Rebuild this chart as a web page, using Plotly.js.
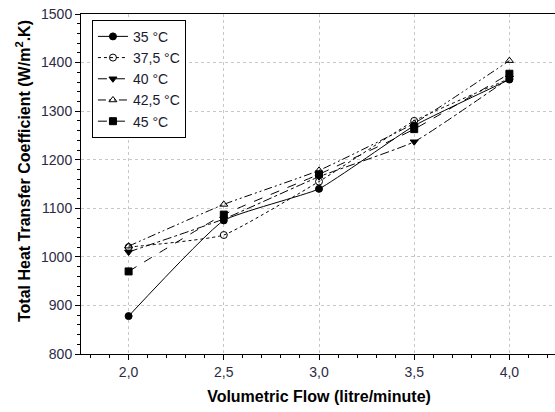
<!DOCTYPE html>
<html><head><meta charset="utf-8">
<script src="https://cdn.plot.ly/plotly-3.0.1.min.js"></script>
<style>html,body{margin:0;padding:0;overflow:hidden;background:#fff}</style>
</head><body><div id="chart" style="width:557px;height:412px"></div>
<script>
const flow = [2.0, 2.5, 3.0, 3.5, 4.0];
const t35 = [878, 1075, 1140, 1270, 1365];
const t375 = [1020, 1045, 1155, 1280, 1367];
const t40 = [1010, 1078, 1165, 1237, 1368];
const t425 = [1022, 1108, 1178, 1275, 1404];
const t45 = [970, 1087, 1170, 1263, 1377];
const names = ['35 °C', '37,5 °C', '40 °C', '42,5 °C', '45 °C'];
const xTitle = 'Volumetric Flow (litre/minute)';
const yTitle = 'Total Heat Transfer Coefficient (W/m<sup>2</sup>.K)';

const styles = [
  {dash: 'solid', symbol: 'circle'},
  {dash: 'dot', symbol: 'circle-open'},
  {dash: 'dashdot', symbol: 'triangle-down'},
  {dash: '8px,3px,2px,3px,2px,3px', symbol: 'triangle-up-open'},
  {dash: 'dash', symbol: 'square'}
];
const series = [t35, t375, t40, t425, t45];
const traces = series.map((ys, i) => ({
  x: flow, y: ys, name: names[i], type: 'scatter', mode: 'lines+markers',
  line: {color: '#000', width: 1, dash: styles[i].dash, shape: 'spline', smoothing: 0.4},
  marker: {symbol: styles[i].symbol, size: 7, color: '#000', line: {color: '#000', width: 1}}
}));

const tickFont = {family: 'Liberation Sans, Arial, sans-serif', size: 14, color: '#2b2b45'};
const layout = {
  width: 557, height: 412,
  margin: {l: 81, r: 0, t: 14, b: 58},
  separators: ',.',
  paper_bgcolor: '#fff', plot_bgcolor: '#fff',
  font: {family: 'Liberation Sans, Arial, sans-serif', size: 13, color: '#222'},
  showlegend: true,
  legend: {
    x: 0.023, y: 0.983, xanchor: 'left', yanchor: 'top',
    bordercolor: '#000', borderwidth: 1, bgcolor: '#fff',
    font: {size: 14, color: '#1a1a2e'}, tracegroupgap: 0, itemwidth: 30
  },
  xaxis: {
    range: [1.75, 4.25], tick0: 2, dtick: 0.5, tickformat: '.1f',
    tickfont: tickFont,
    showline: true, linecolor: '#000', linewidth: 1, mirror: true,
    ticks: 'outside', ticklen: 5, tickcolor: '#000',
    showgrid: true, gridcolor: '#c8c8c8', griddash: 'dot', gridwidth: 1,
    zeroline: false,
    minor: {dtick: 0.1, ticks: 'outside', ticklen: 3, tickcolor: '#000', showgrid: false},
    title: {text: '<b>' + xTitle + '</b>', font: {size: 16, color: '#000'}, standoff: 12}
  },
  yaxis: {
    range: [800, 1500], dtick: 100,
    tickfont: tickFont,
    showline: true, linecolor: '#000', linewidth: 1, mirror: true,
    ticks: 'outside', ticklen: 5, tickcolor: '#000',
    showgrid: true, gridcolor: '#c8c8c8', griddash: 'dot', gridwidth: 1,
    zeroline: false,
    minor: {dtick: 20, ticks: 'outside', ticklen: 3, tickcolor: '#000', showgrid: false}
  },
  annotations: [{
    text: '<b>' + yTitle + '</b>', textangle: -90, showarrow: false,
    xref: 'paper', yref: 'paper', x: -0.122, y: 0.538, xanchor: 'center', yanchor: 'middle',
    font: {family: 'Liberation Sans, Arial, sans-serif', size: 16, color: '#000'}
  }]
};
Plotly.newPlot('chart', traces, layout, {displayModeBar: false, staticPlot: true});
</script></body></html>
